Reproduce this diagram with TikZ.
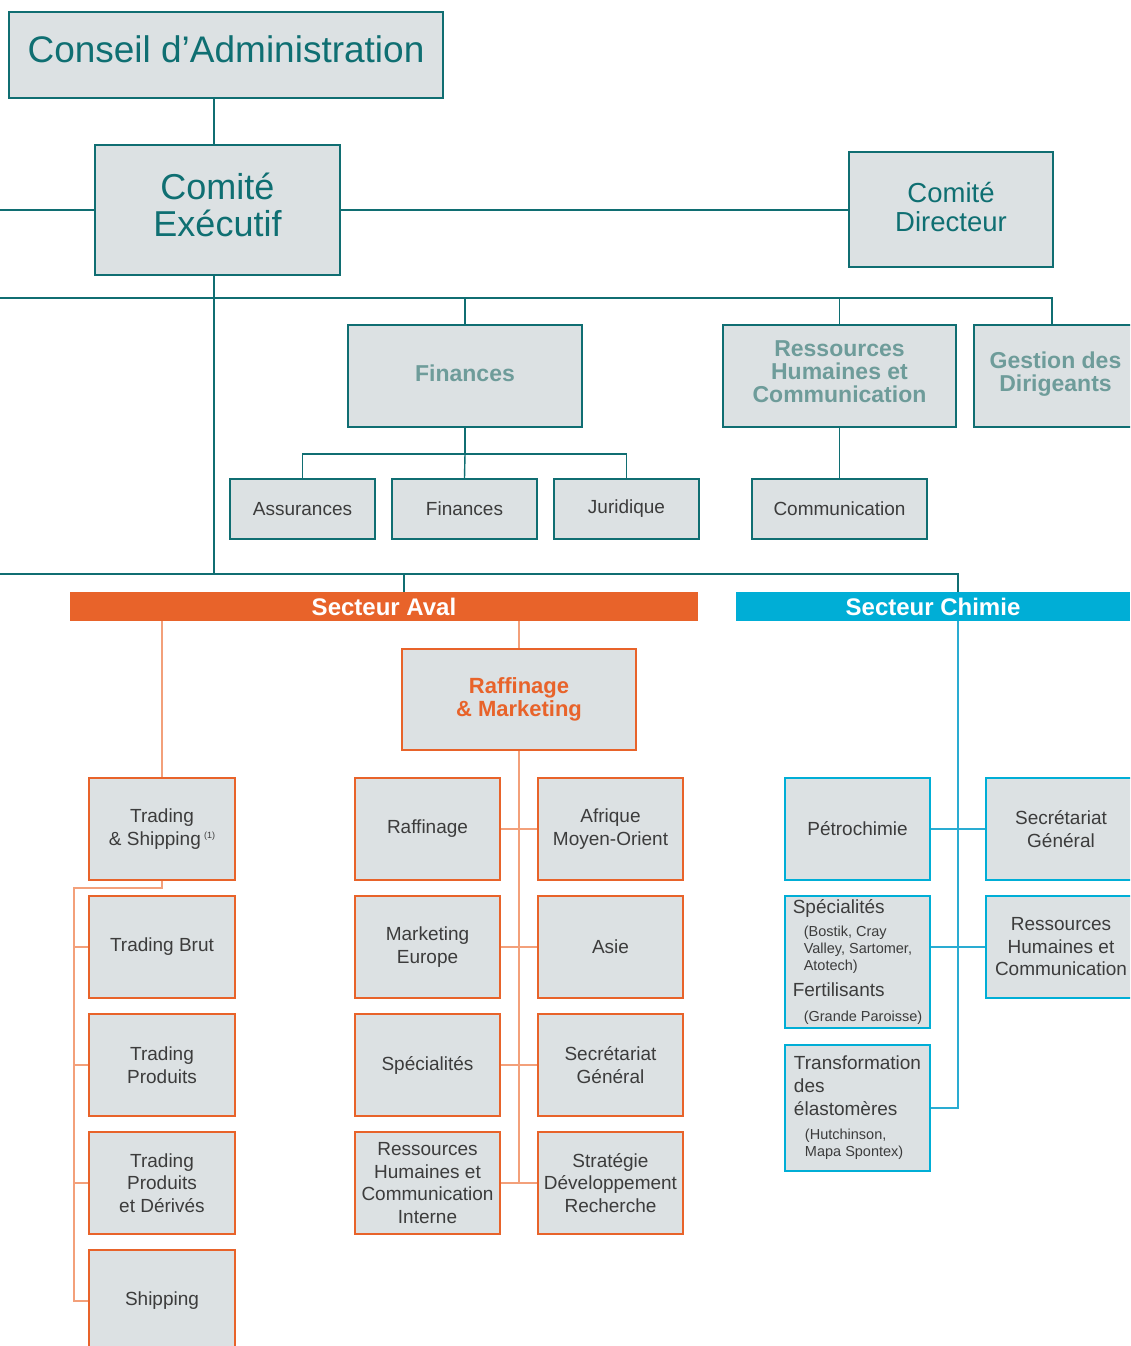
\documentclass[tikz,border=0pt]{standalone}
\usepackage{fontspec}
\setmainfont{Liberation Sans}
\definecolor{tealdark}{HTML}{106E72}
\definecolor{tealtxt}{HTML}{0F6F72}
\definecolor{tealgrey}{HTML}{6E9C9A}
\definecolor{boxgrey}{HTML}{DCE1E3}
\definecolor{txtgrey}{HTML}{3C3C3C}
\definecolor{avalorange}{HTML}{E8632A}
\definecolor{orangeline}{HTML}{F3A07A}
\definecolor{chimiecyan}{HTML}{00AED6}
\definecolor{cyanline}{HTML}{2AACD2}
\newcommand\subtxt[1]{\hspace*{11pt}{\fontsize{14.5}{17}\selectfont #1}}
\newcommand\chfont{\fontsize{19}{17}\selectfont\lineskiplimit-30pt\relax}

\begin{document}
\begin{tikzpicture}[x=1pt,y=-1pt,
  every node/.style={inner sep=0pt,align=center,text=txtgrey,font=\fontsize{19}{22.5}\selectfont},
  tbox/.style={draw=tealdark,fill=boxgrey,line width=2pt},
  obox/.style={draw=avalorange,fill=boxgrey,line width=2pt,minimum width=146pt,minimum height=102pt},
  cbox/.style={draw=chimiecyan,fill=boxgrey,line width=2pt,minimum width=145pt,minimum height=102pt},
  tline/.style={draw=tealdark,line width=1.4pt},
  oline/.style={draw=orangeline,line width=1.4pt},
  cline/.style={draw=cyanline,line width=1.4pt},
  bigtxt/.style={text=tealtxt,font=\fontsize{36}{37}\selectfont},
  headtxt/.style={text=tealgrey,font=\bfseries\fontsize{23}{23}\selectfont},
  sectbar/.style={text=white,font=\bfseries\fontsize{24}{24}\selectfont,minimum height=29pt},
  chtxt/.style={align=left,font=\chfont},
]
\clip (0,0) rectangle (1130,1346);

% direction
\node[tbox,bigtxt,font=\fontsize{37}{38}\selectfont,minimum width=434pt,minimum height=86pt] (conseil) at (226,55) {Conseil d’Administration\rule[-11pt]{0pt}{1pt}};
\node[tbox,bigtxt,minimum width=245pt,minimum height=130pt] (comex) at (217.5,210) {Comité\\Exécutif\rule[-10pt]{0pt}{1pt}};
\node[tbox,bigtxt,font=\fontsize{27.5}{29}\selectfont,minimum width=204pt,minimum height=115pt] (codir) at (951,209.5) {Comité\\Directeur\rule[-6pt]{0pt}{1pt}};

% fonctions
\node[tbox,headtxt,minimum width=234pt,minimum height=102pt] (fin) at (465,376) {Finances\rule[-6pt]{0pt}{1pt}};
\node[tbox,headtxt,minimum width=233pt,minimum height=102pt] (rhc) at (839.5,376) {Ressources\\Humaines et\\Communication\rule[-9pt]{0pt}{1pt}};
\node[tbox,headtxt,minimum width=163pt,minimum height=102pt] (gest) at (1055.5,376) {Gestion des\\Dirigeants\rule[-9pt]{0pt}{1pt}};
\node[tbox,minimum width=145pt,minimum height=60pt] (assur) at (302.5,509) {Assurances};
\node[tbox,minimum width=145pt,minimum height=60pt] (finsub) at (464.5,509) {Finances};
\node[tbox,minimum width=145pt,minimum height=60pt] (jur) at (626.5,509) {Juridique};
\node[tbox,minimum width=175pt,minimum height=60pt] (comm) at (839.5,509) {Communication};

% secteurs
\node[sectbar,fill=avalorange,minimum width=628pt] (aval) at (384,606.5) {Secteur Aval};
\node[sectbar,fill=chimiecyan,minimum width=394pt] (chimie) at (933,606.5) {Secteur Chimie};

% aval
\node[obox,text=avalorange,font=\bfseries\fontsize{22}{23}\selectfont,minimum width=234pt,minimum height=101pt] (rm) at (519,699.5) {Raffinage\\\& Marketing};
\node[obox] (ts) at (162,829) {Trading\\\& Shipping\,{\fontsize{9}{9}\selectfont\raisebox{7pt}{(1)}}};
\node[obox] (tb) at (162,947) {Trading Brut};
\node[obox] (tp) at (162,1065) {Trading\\Produits};
\node[obox] (tpd) at (162,1183) {Trading\\Produits\\et Dérivés};
\node[obox] (ship) at (162,1301) {Shipping};
\node[obox,minimum width=145pt] (raf) at (427.5,829) {Raffinage};         % gauche
\node[obox,minimum width=145pt] (mkt) at (427.5,947) {Marketing\\Europe};
\node[obox,minimum width=145pt] (spe) at (427.5,1065) {Spécialités};
\node[obox,minimum width=145pt] (rhi) at (427.5,1183) {Ressources\\Humaines et\\Communication\\Interne};
\node[obox,minimum width=145pt] (afr) at (610.5,829) {Afrique\\Moyen-Orient};  % droite
\node[obox,minimum width=145pt] (asie) at (610.5,947) {Asie};
\node[obox,minimum width=145pt] (sgr) at (610.5,1065) {Secrétariat\\Général};
\node[obox,minimum width=145pt] (strat) at (610.5,1183) {Stratégie\\Développement\\Recherche};

% chimie
\node[cbox] (petro) at (857.5,829) {Pétrochimie};
\node[cbox,chtxt,minimum height=132pt] (spc) at (857.5,962) {Spécialités\\[6pt]\subtxt{(Bostik, Cray}\\\subtxt{Valley, Sartomer,}\\\subtxt{Atotech)}\\[9pt]Fertilisants\\[8pt]\subtxt{(Grande Paroisse)}};
\node[cbox,chtxt,minimum height=126pt] (trf) at (857.5,1108) {Transformation\\[6pt]des\\[6pt]élastomères\\[7pt]\subtxt{(Hutchinson,}\\\subtxt{Mapa Spontex)}};
\node[cbox,minimum width=150pt] (csg) at (1061,829) {Secrétariat\\Général};
\node[cbox,minimum width=150pt] (crh) at (1061,947) {Ressources\\Humaines et\\Communication};

% liaisons direction
\coordinate (exl) at (0,210);
\coordinate (bush) at (0,298);
\coordinate (busa) at (0,574);
\coordinate (finbus) at (465,454);
\coordinate (avaltop) at (404,574);
\coordinate (chimtop) at (958,574);
\coordinate (exn) at ([xshift=-3.5pt]comex.north);
\coordinate (exs) at ([xshift=-3.5pt]comex.south);
\draw[tline] (exn) -- (exn |- conseil.south);
\draw[tline] (exl) -- (comex.west);
\draw[tline] (comex.east) -- (comex.east -| codir.west);
\draw[tline] (exs) -- (exs |- busa);
\draw[tline] (bush) -| ([xshift=-3.5pt]gest.north);
\draw[tline] (fin.north) -- (fin.north |- bush);
\draw[tline] (rhc.north) -- (rhc.north |- bush);
\draw[tline] (fin.south) -- (finbus);
\draw[tline] (assur.north) |- (finbus) -| (jur.north);
\draw[tline] (finbus) -- (finsub.north);
\draw[tline] (rhc.south) -- (comm.north);
\draw[tline] (busa) -- (chimtop) -- (chimtop |- chimie.north);
\draw[tline] (avaltop) -- (avaltop |- aval.north);

% liaisons aval
\coordinate (tsbend) at (74,888);
\draw[oline] (ts.north) -- (ts.north |- aval.south);
\draw[oline] (rm.north) -- (rm.north |- aval.south);
\draw[oline] (rm.south) -- (rm.south |- rhi.east);
\draw[oline] (ts.south) |- (tsbend) |- (ship.west);
\foreach \n in {tb,tp,tpd}
  \draw[oline] (\n.west) -- (\n.west -| tsbend);
\draw[oline] (raf.east) -- (afr.west);
\draw[oline] (mkt.east) -- (asie.west);
\draw[oline] (spe.east) -- (sgr.west);
\draw[oline] (rhi.east) -- (strat.west);

% liaisons chimie
\coordinate (chv) at (958,621);
\draw[cline] (chv) |- (trf.east);
\draw[cline] (petro.east) -- (csg.west);
\draw[cline] (crh.west) -- (crh.west -| spc.east);
\end{tikzpicture}
\end{document}
